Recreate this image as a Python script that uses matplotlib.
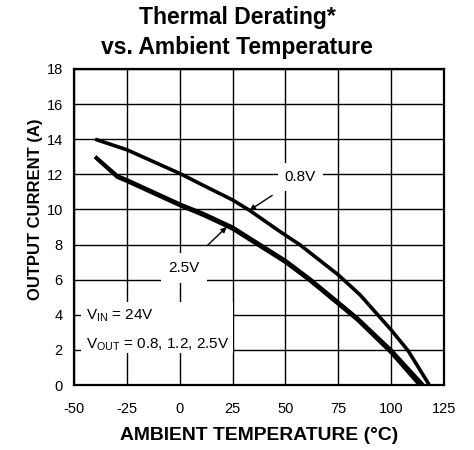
import matplotlib
matplotlib.use("Agg")
import matplotlib.pyplot as plt

plt.rcParams['font.family'] = ['Liberation Sans', 'DejaVu Sans']
plt.rcParams['axes.unicode_minus'] = False

# curve data
temp_08 = [-40, -25, 0, 11.5, 25, 33, 47.4, 56.9, 66, 75, 85.3, 100, 108, 118]
cur_08 = [14.0, 13.4, 12.05, 11.35, 10.54, 9.95, 8.74, 7.98, 7.12, 6.27, 5.13, 3.13, 1.95, 0]

temp_12 = [-40, -29.5, -25, 0, 11.5, 25, 50, 61.6, 75, 84, 100, 115]
cur_12 = [13.0, 11.9, 11.68, 10.3, 9.74, 8.98, 7.08, 6.03, 4.7, 3.8, 1.97, 0]

temp_25 = [-40, -29.5, -25, 0, 11.5, 25, 50, 61.6, 75, 84, 100, 113.5]
cur_25 = [13.0, 11.85, 11.62, 10.24, 9.66, 8.9, 7.0, 5.95, 4.62, 3.72, 1.85, 0]

x_ticks = [-50, -25, 0, 25, 50, 75, 100, 125]
y_ticks = [0, 2, 4, 6, 8, 10, 12, 14, 16, 18]

fig = plt.figure(figsize=(4.74, 4.5), dpi=100)
ax = fig.add_axes([0.156, 0.1444, 0.781, 0.7023])

ax.plot(temp_08, cur_08, color='black', lw=2.6, solid_capstyle='butt', zorder=3)
ax.plot(temp_12, cur_12, color='black', lw=2.8, solid_capstyle='butt', zorder=3)
ax.plot(temp_25, cur_25, color='black', lw=2.8, solid_capstyle='butt', zorder=3)

ax.set_xlim(-50, 125)
ax.set_ylim(0, 18)
ax.set_xticks(x_ticks)
ax.set_yticks(y_ticks)
ax.grid(True, color='black', lw=1.0, zorder=0)
ax.set_axisbelow(True)
ax.tick_params(axis='both', length=0, labelsize=10.5)
ax.tick_params(axis='x', pad=12)
ax.tick_params(axis='y', pad=8)
for s in ax.spines.values():
    s.set_linewidth(1.6)

# labels with white boxes over the grid
ax.annotate('0.8V', xy=(33, 9.95), xytext=(57, 11.85), fontsize=11,
            ha='center', va='center', zorder=4,
            bbox=dict(boxstyle='square,pad=0.45', fc='white', ec='none'),
            arrowprops=dict(arrowstyle='-|>', color='black', lw=1,
                            mutation_scale=8, shrinkA=6, shrinkB=0))
ax.annotate('2.5V', xy=(22.2, 9.0), xytext=(2, 6.67), fontsize=11,
            ha='center', va='center', zorder=4,
            bbox=dict(boxstyle='square,pad=0.5', fc='white', ec='none'),
            arrowprops=dict(arrowstyle='-|>', color='black', lw=1,
                            mutation_scale=8, shrinkA=8, shrinkB=0))

ax.fill_between([-46.7, 25.2], 1.85, 4.75, color='white', zorder=2, lw=0)
ax.text(-44.5, 3.95, r'V$_{\mathregular{IN}}$ = 24V', fontsize=11, va='center', zorder=4)
ax.text(-44.5, 2.3, r'V$_{\mathregular{OUT}}$ = 0.8, 1.2, 2.5V', fontsize=11,
        va='center', zorder=4)

fig.text(0.5, 0.947, 'Thermal Derating*', ha='center', va='baseline',
         fontsize=16.5, fontweight='bold')
fig.text(0.5, 0.879, 'vs. Ambient Temperature', ha='center', va='baseline',
         fontsize=16.5, fontweight='bold')
fig.text(0.5464, 0.022, 'AMBIENT TEMPERATURE (°C)', ha='center', va='baseline',
         fontsize=13.9, fontweight='bold')
fig.text(0.074, 0.5356, 'OUTPUT CURRENT (A)', ha='center', va='center',
         rotation=90, fontsize=12, fontweight='bold')

fig.savefig('out.png', dpi=100)
